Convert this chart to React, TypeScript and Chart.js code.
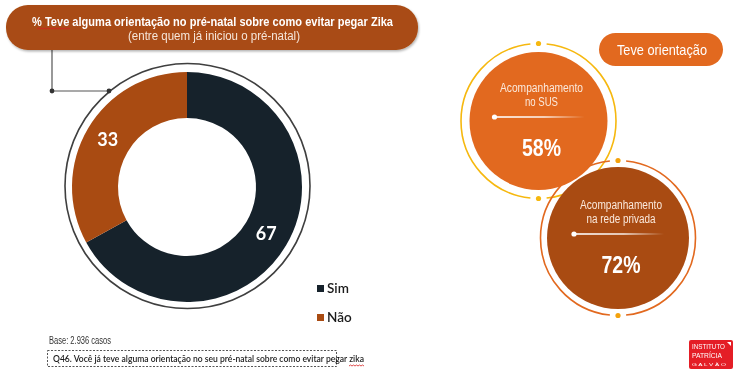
import React, { useEffect, useRef } from "react";
import { Chart, registerables } from "chart.js";

Chart.register(...registerables);

const categories = ["Sim", "Não"];
const values = [67, 33];
const sliceColors = ["#16222b", "#a94b12"];

const groupLines = [
  ["Acompanhamento", "no SUS"],
  ["Acompanhamento", "na rede privada"],
];
const groupValues = [58, 72];

const titleLine1 = "% Teve alguma orientação no pré-natal sobre como evitar pegar Zika";
const titleLine2 = "(entre quem já iniciou o pré-natal)";
const pillText = "Teve orientação";
const baseText = "Base: 2.936 casos";
const questionText = "Q46. Você já teve alguma orientação no seu pré-natal sobre como evitar pegar zika";

const ARIAL = "'Liberation Sans', Arial, sans-serif";
const ROUND = "'Lato', 'Noto Sans', sans-serif";

function arcPath(cx: number, cy: number, r: number, a0: number, a1: number) {
  const rad = (d: number) => (d * Math.PI) / 180;
  const x0 = cx + r * Math.cos(rad(a0));
  const y0 = cy + r * Math.sin(rad(a0));
  const x1 = cx + r * Math.cos(rad(a1));
  const y1 = cy + r * Math.sin(rad(a1));
  const large = a1 - a0 > 180 ? 1 : 0;
  return `M ${x0} ${y0} A ${r} ${r} 0 ${large} 1 ${x1} ${y1}`;
}

function wavy(x0: number, x1: number, y: number) {
  let d = `M ${x0} ${y}`;
  let up = true;
  for (let x = x0 + 1.5; x <= x1; x += 1.5) {
    d += ` L ${x} ${up ? y - 1 : y}`;
    up = !up;
  }
  return d;
}

function NText(props: { x: number; y: number; w: number; size: number; text: string; fill: string; bold?: boolean; weight?: number; anchor?: string; family?: string }) {
  const { x, y, w, size, text, fill, bold, weight, anchor, family } = props;
  return (
    <text
      x={x}
      y={y}
      fill={fill}
      fontFamily={family || ARIAL}
      fontWeight={weight ? weight : bold ? "bold" : "normal"}
      fontSize={size}
      textAnchor={anchor || "middle"}
      textLength={w}
      lengthAdjust="spacingAndGlyphs"
    >
      {text}
    </text>
  );
}

function Bubble(props: {
  cx: number; cy: number; r: number; ringR: number; fill: string; ring: string; dot: string;
  lines: string[]; widths: number[]; value: number; id: string;
}) {
  const { cx, cy, r, ringR, fill, ring, dot, lines, widths, value, id } = props;
  const gap = 6;
  return (
    <g>
      <defs>
        <linearGradient id={id} x1="0" x2="1" y1="0" y2="0">
          <stop offset="0" stopColor="#ffffff" stopOpacity="1" />
          <stop offset="0.55" stopColor="#ffffff" stopOpacity="0.85" />
          <stop offset="1" stopColor="#ffffff" stopOpacity="0" />
        </linearGradient>
      </defs>
      <circle cx={cx} cy={cy} r={r} fill={fill} />
      <path d={arcPath(cx, cy, ringR, -90 + gap, 90 - gap)} stroke={ring} strokeWidth={1.6} fill="none" />
      <path d={arcPath(cx, cy, ringR, 90 + gap, 270 - gap)} stroke={ring} strokeWidth={1.6} fill="none" />
      <circle cx={cx} cy={cy - ringR} r={2.6} fill={dot} />
      <circle cx={cx} cy={cy + ringR} r={2.6} fill={dot} />
      <NText x={cx + 3} y={cy - 29.5} w={widths[0]} size={12.5} text={lines[0]} fill="#fbe9dc" />
      <NText x={cx + 3} y={cy - 15.5} w={widths[1]} size={12.5} text={lines[1]} fill="#fbe9dc" />
      <rect x={cx - 44} y={cy - 4.8} width={90} height={1.6} fill={`url(#${id})`} />
      <circle cx={cx - 44} cy={cy - 4} r={2.6} fill="#ffffff" />
      <NText x={cx + 3} y={cy + 35} w={39} size={24} bold text={`${value}%`} fill="#ffffff" />
    </g>
  );
}

export default function App() {
  const canvasRef = useRef<HTMLCanvasElement | null>(null);

  useEffect(() => {
    const canvas = canvasRef.current;
    if (!canvas) return;

    const decor = {
      id: "decor",
      beforeDraw(chart: any) {
        const ctx = chart.ctx;
        ctx.save();
        ctx.strokeStyle = "#3f3f3f";
        ctx.lineWidth = 1.6;
        ctx.beginPath();
        ctx.arc(187.5, 186, 122.5, 0, Math.PI * 2);
        ctx.stroke();
        ctx.strokeStyle = "#555555";
        ctx.lineWidth = 1.2;
        ctx.beginPath();
        ctx.moveTo(52, 48);
        ctx.lineTo(52, 91);
        ctx.lineTo(109, 91);
        ctx.stroke();
        ctx.fillStyle = "#333333";
        ctx.beginPath();
        ctx.arc(52, 91, 2.4, 0, Math.PI * 2);
        ctx.fill();
        ctx.beginPath();
        ctx.arc(109, 91, 2.4, 0, Math.PI * 2);
        ctx.fill();
        ctx.restore();
      },
      afterDatasetsDraw(chart: any) {
        const ctx = chart.ctx;
        const meta = chart.getDatasetMeta(0);
        ctx.save();
        ctx.fillStyle = "#ffffff";
        ctx.font = "bold 18px Lato, 'Noto Sans', sans-serif";
        ctx.textAlign = "center";
        ctx.textBaseline = "middle";
        meta.data.forEach((arc: any, i: number) => {
          const p = arc.tooltipPosition();
          ctx.fillText(String(chart.data.datasets[0].data[i]), p.x, p.y);
        });
        ctx.restore();
      },
    };

    const chart = new Chart(canvas, {
      type: "doughnut",
      data: {
        labels: categories,
        datasets: [{ data: values, backgroundColor: sliceColors, borderWidth: 0 }],
      },
      options: {
        responsive: false,
        animation: false,
        devicePixelRatio: 1,
        cutout: "60%",
        layout: { padding: { left: 72, top: 72, right: 442, bottom: 73 } },
        plugins: { legend: { display: false }, tooltip: { enabled: false } },
      },
      plugins: [decor],
    });
    return () => chart.destroy();
  }, []);

  return (
    <div style={{ position: "fixed", left: 0, top: 0, width: 744, height: 375, background: "#ffffff", overflow: "hidden" }}>
      <canvas ref={canvasRef} width={744} height={375} style={{ position: "absolute", left: 0, top: 0, width: 744, height: 375 }} />

      {/* legend */}
      {categories.map((c, i) => (
        <div key={c} style={{ position: "absolute", left: 317, top: 280 + i * 29, height: 16, display: "flex", alignItems: "center", fontFamily: ROUND, fontSize: 13.5, fontWeight: 600, color: "#1c1c1c" }}>
          <span style={{ display: "inline-block", width: 7, height: 7, background: sliceColors[i], marginRight: 3 }} />
          {c}
        </div>
      ))}

      <svg width={744} height={375} style={{ position: "absolute", left: 0, top: 0 }}>
        <defs>
          <filter id="sh" x="-5%" y="-20%" width="110%" height="150%">
            <feDropShadow dx="1" dy="1.5" stdDeviation="1.2" floodColor="#000000" floodOpacity="0.3" />
          </filter>
        </defs>

        {/* title banner */}
        <rect x={6} y={5} width={412} height={45} rx={22} ry={22} fill="#a94b12" filter="url(#sh)" />
        <NText x={212.5} y={25.5} w={361} size={13.5} bold text={titleLine1} fill="#ffffff" />
        <path d={wavy(37, 71, 29)} stroke="#d62020" strokeWidth={0.9} fill="none" />
        <NText x={214} y={39.5} w={172} size={12.5} text={titleLine2} fill="#f6e6da" />

        {/* base & question */}
        <NText x={49} y={343.5} w={62} size={10.5} text={baseText} fill="#333333" anchor="start" />
        <rect x={47.5} y={350.5} width={289} height={16} fill="none" stroke="#555555" strokeWidth={1} strokeDasharray="2 1.5" />
        <NText x={53} y={362} w={311} size={8.5} weight={600} text={questionText} fill="#1c1c1c" anchor="start" family={ROUND} />
        <path d={wavy(349, 365, 366)} stroke="#d62020" strokeWidth={0.8} fill="none" />

        {/* bubbles */}
        <Bubble id="g1" cx={538.5} cy={121} r={69} ringR={77.5} fill="#e2691f" ring="#f6b80f" dot="#f6b80f" lines={groupLines[0]} widths={[83, 33]} value={groupValues[0]} />
        <Bubble id="g2" cx={618} cy={238} r={71} ringR={77.5} fill="#a94b12" ring="#e2691f" dot="#f4a20c" lines={groupLines[1]} widths={[82, 69]} value={groupValues[1]} />

        {/* pill */}
        <rect x={599} y={33} width={124} height={33} rx={16.5} ry={16.5} fill="#e2691f" />
        <NText x={662} y={54.5} w={90} size={15} text={pillText} fill="#ffffff" />

        {/* logo */}
        <rect x={689} y={340} width={44} height={29} rx={2} fill="#e41e26" />
        <NText x={692} y={348.5} w={33} size={8} text="INSTITUTO" fill="#ffffff" anchor="start" />
        <NText x={692} y={357.5} w={30} size={8} text="PATRÍCIA" fill="#ffffff" anchor="start" />
        <NText x={692} y={366} w={34} size={4} text="G A L V Ã O" fill="#ffffff" anchor="start" />
        <path d="M 727 342 L 731 342 L 731 346 Z" fill="#ffffff" />
      </svg>
    </div>
  );
}
